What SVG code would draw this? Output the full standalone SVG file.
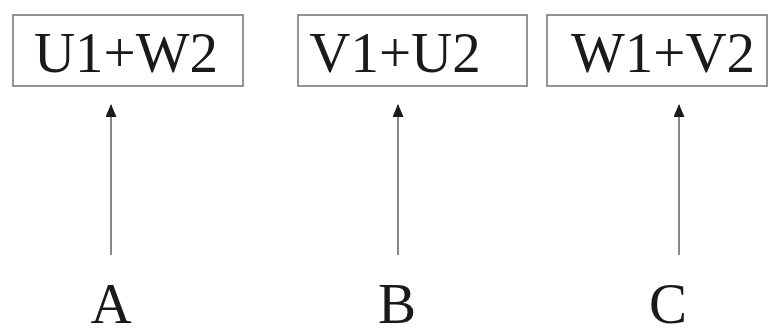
<svg xmlns="http://www.w3.org/2000/svg" width="768" height="336" viewBox="0 0 768 336">
<style>
.box{fill:#fff;stroke:#7a7a7a;stroke-width:1.6}
.t{font-family:"Liberation Serif","Times New Roman",serif;font-size:57px;fill:#1a1a1a;text-anchor:middle}
.c{stroke:#6a6a6a;stroke-width:1.6;fill:none}
</style>
<defs>
<marker id="ah" markerWidth="13" markerHeight="11" refX="12" refY="5.5" orient="auto" markerUnits="userSpaceOnUse" viewBox="0 0 13 11">
<path d="M0,0 L13,5.5 L0,11 Z" fill="#1a1a1a"/>
</marker>
</defs>
<rect width="768" height="336" fill="#fff"/>
<g id="n1"><rect class="box" x="13" y="15" width="230" height="71"/><text class="t" x="126" y="72">U1+W2</text></g>
<g id="n2"><rect class="box" x="298" y="15" width="229" height="71"/><text class="t" x="395" y="72">V1+U2</text></g>
<g id="n3"><rect class="box" x="547" y="15" width="220" height="71"/><text class="t" x="663" y="72">W1+V2</text></g>
<g id="lA"><text class="t" x="111" y="323">A</text></g>
<g id="lB"><text class="t" x="397" y="323">B</text></g>
<g id="lC"><text class="t" x="668" y="323">C</text></g>
<g id="connectors">
<line class="c" x1="111" y1="255" x2="111" y2="105" marker-end="url(#ah)"/>
<line class="c" x1="398" y1="255" x2="398" y2="105" marker-end="url(#ah)"/>
<line class="c" x1="679" y1="255" x2="679" y2="105" marker-end="url(#ah)"/>
</g>
</svg>
